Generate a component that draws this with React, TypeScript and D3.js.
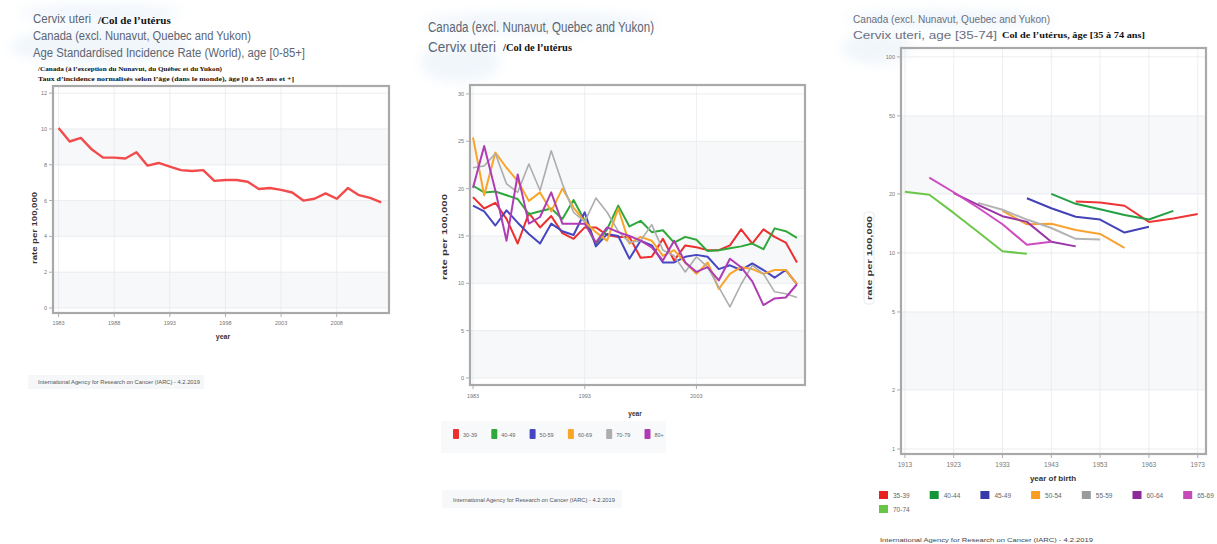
import React from 'react';
import * as d3 from 'd3';

// ---------- DATA ----------
const periodYears = [1983,1984,1985,1986,1987,1988,1989,1990,1991,1992,1993,1994,1995,1996,1997,1998,1999,2000,2001,2002,2003,2004,2005,2006,2007,2008,2009,2010,2011,2012];
const asrAllAges = [10.05,9.3,9.5,8.85,8.4,8.4,8.35,8.7,7.95,8.1,7.9,7.7,7.65,7.7,7.1,7.15,7.15,7.05,6.65,6.7,6.6,6.45,6.0,6.1,6.4,6.1,6.7,6.3,6.15,5.9];
const leftYTicks = [0,2,4,6,8,10,12];
const leftXTicks = [1983,1988,1993,1998,2003,2008];

const ageGroupLabels = ['30-39','40-49','50-59','60-69','70-79','80+'];
const rate30_39 = [19.1,17.9,18.5,16.8,14.2,17.4,15.9,17.1,15.3,14.7,15.9,15.9,15.1,14.9,14.9,12.7,12.8,14.7,12.4,14.0,13.8,13.5,13.5,14.0,15.7,14.2,15.7,14.9,14.3,12.2];
const rate40_49 = [20.3,19.6,19.7,19.3,18.9,17.3,17.6,17.9,16.8,18.8,16.6,14.1,15.7,18.2,16.0,16.6,15.4,15.6,14.3,14.9,14.6,13.4,13.5,13.7,13.9,14.2,13.6,15.8,15.5,14.8];
const rate50_59 = [18.2,17.6,16.1,17.7,16.4,15.2,14.2,16.3,15.5,15.1,17.5,13.9,15.2,15.0,12.6,14.5,14.0,12.2,12.2,12.8,13.0,12.8,11.5,11.9,11.4,12.1,11.4,10.6,11.4,9.9];
const rate60_69 = [25.4,19.3,23.8,22.2,20.8,18.7,19.6,17.6,20.0,18.0,16.5,15.4,14.5,17.9,14.2,14.9,14.5,12.9,13.5,12.2,11.0,12.2,9.4,11.0,11.7,11.5,11.0,11.4,11.4,9.9];
const rate70_79 = [22.2,22.4,23.7,20.5,19.6,22.6,19.8,24.0,20.5,17.5,16.5,19.0,17.5,15.5,14.3,14.5,16.2,13.5,12.9,11.2,12.8,11.7,9.6,7.5,9.9,11.9,11.0,9.1,8.9,8.5];
const rate80p = [20.1,24.5,19.8,14.5,21.5,16.3,17.0,19.6,16.3,16.3,16.3,14.3,15.9,15.4,15.0,14.5,13.8,12.4,14.5,12.2,11.2,11.7,10.3,12.6,11.7,10.2,7.7,8.4,8.5,9.9];
const midColors = ['#ec2f2f','#2fa83a','#4646c0','#f9a52a','#adadad','#b03cb3'];
const midYTicks = [0,5,10,15,20,25,30];
const midXTicks = [1983,1993,2003];

const cohortBirthYears = [1913,1918,1923,1928,1933,1938,1943,1948,1953,1958,1963,1968,1973];
const cohortLabels = ['35-39','40-44','45-49','50-54','55-59','60-64','65-69','70-74'];
const cohort35_39 = [null,null,null,null,null,null,null,18.3,18.1,17.4,14.4,15.0,15.8];
const cohort40_44 = [null,null,null,null,null,null,20.0,17.8,16.7,15.6,14.8,16.4,null];
const cohort45_49 = [null,null,null,null,null,19.0,16.9,15.3,14.8,12.7,13.6,null,null];
const cohort50_54 = [null,null,null,null,16.4,14.0,14.1,13.1,12.5,10.6,null,null,null];
const cohort55_59 = [null,null,null,18.0,16.6,14.8,13.4,11.8,11.7,null,null,null,null];
const cohort60_64 = [null,null,20.2,17.6,15.4,14.4,11.4,10.8,null,null,null,null,null];
const cohort65_69 = [null,24.2,20.4,17.0,14.0,11.0,11.4,null,null,null,null,null,null];
const cohort70_74 = [20.5,19.8,16.0,12.8,10.2,9.9,null,null,null,null,null,null,null];
const rightColors = ['#ee3535','#23a043','#4343b8','#f8a232','#b3b3b3','#9a35a5','#cf4cc0','#6cc749'];
const rightLegendColors = ['#e8201f','#14953a','#3838a8','#fb9d1e','#9a9a9a','#8c2a9c','#c44bb8','#68c646'];
const rightYTicks = [1,2,5,10,20,50,100];
const rightXTicks = [1913,1923,1933,1943,1953,1963,1973];

const HEAD = '#5c6573';
const SANS = "'Liberation Sans', Arial, sans-serif";
const SERIF = "'Liberation Serif', 'Times New Roman', serif";
const sans = { fontFamily: SANS };
const serif = { fontFamily: SERIF };

function Watermark({ x, y, w, h }: any) {
  return <ellipse cx={x + w / 2} cy={y + h / 2} rx={w / 2} ry={h / 2} fill="#dce9f5" opacity={0.4} filter="url(#blurW)" />;
}

function Frame({ x0, x1, y0, y1 }: any) {
  return <rect x={x0} y={y0} width={x1 - x0} height={y1 - y0} fill="none" stroke="#a9a9a9" strokeWidth={2.2} />;
}

const BAND = '#f7f8f9';

export default function App() {
  // ---- left panel scales
  const lx = d3.scaleLinear().domain([1982.5, 2012.7]).range([53, 389]);
  const ly = d3.scaleLinear().domain([-0.28, 12.4]).range([313, 86]);
  const lLine = d3.line<number>().x((_, i) => lx(periodYears[i])).y(d => ly(d));

  // ---- middle panel
  const mx = d3.scaleLinear().domain([1982.73, 2012.72]).range([470, 805]);
  const my = d3.scaleLinear().domain([-0.74, 30.94]).range([385, 85]);
  const mLine = d3.line<number>().x((_, i) => mx(periodYears[i])).y(d => my(d));
  const midSeries = [rate30_39, rate40_49, rate50_59, rate60_69, rate70_79, rate80p];

  // ---- right panel
  const rx = d3.scaleLinear().domain([1912.2, 1974.7]).range([901, 1206]);
  const ry = d3.scaleLog().domain([0.943, 111]).range([454, 48]);
  const rLine = d3.line<number | null>()
    .defined(d => d != null)
    .x((_, i) => rx(cohortBirthYears[i]))
    .y(d => ry(d as number));
  const rightSeries = [cohort35_39, cohort40_44, cohort45_49, cohort50_54, cohort55_59, cohort60_64, cohort65_69, cohort70_74];

  const leftBands = [[0, 2], [4, 6], [8, 10]];
  const midBands = [[0, 5], [10, 15], [20, 25]];
  const rightBands = [[2, 5], [20, 50]];

  return (
    <svg width={1217} height={544} style={{ position: 'absolute', left: 0, top: 0, background: '#fff' }}>
      <defs>
        <filter id="blurW" x="-50%" y="-50%" width="200%" height="200%">
          <feGaussianBlur stdDeviation="6" />
        </filter>
      </defs>
      <rect x={0} y={0} width={1217} height={544} fill="#fff" />

      {/* ================= LEFT PANEL ================= */}
      <Watermark x={10} y={28} w={180} h={36} />
      <Watermark x={20} y={4} w={160} h={18} />
      <text x={33} y={23} style={sans} fontSize={12} fill={HEAD} textLength={58} lengthAdjust="spacingAndGlyphs">Cervix uteri</text>
      <text x={98} y={24} style={serif} fontWeight="bold" fontSize={11} fill="#111">/Col de l’utérus</text>
      <text x={33} y={40} style={sans} fontSize={12} fill={HEAD} textLength={218} lengthAdjust="spacingAndGlyphs">Canada (excl. Nunavut, Quebec and Yukon)</text>
      <text x={33} y={57} style={sans} fontSize={12} fill={HEAD} textLength={272} lengthAdjust="spacingAndGlyphs">Age Standardised Incidence Rate (World), age [0-85+]</text>
      <text x={38} y={71} style={serif} fontWeight="bold" fontSize={6.3} fill="#111" textLength={184} lengthAdjust="spacingAndGlyphs">/Canada (à l’exception du Nunavut, du Québec et du Yukon)</text>
      <text x={38} y={81} style={serif} fontWeight="bold" fontSize={6.3} fill="#111" textLength={256} lengthAdjust="spacingAndGlyphs">Taux d’incidence normalisés selon l’âge (dans le monde), âge [0 à 55 ans et +]</text>

      {leftBands.map(([a, b], i) => (
        <rect key={'lb' + i} x={53} width={336} y={ly(b)} height={ly(a) - ly(b)} fill={BAND} />
      ))}
      {leftYTicks.map(t => (
        <g key={'ly' + t}>
          <line x1={53} x2={389} y1={ly(t)} y2={ly(t)} stroke="#e6e8eb" strokeWidth={0.8} />
          <line x1={49} x2={53} y1={ly(t)} y2={ly(t)} stroke="#999" strokeWidth={0.8} />
          <text x={47} y={ly(t) + 2} textAnchor="end" style={sans} fontSize={5.5} fill="#777">{t}</text>
        </g>
      ))}
      {leftXTicks.map(t => (
        <g key={'lx' + t}>
          <line x1={lx(t)} x2={lx(t)} y1={86} y2={313} stroke="#e8eaec" strokeWidth={0.8} />
          <line x1={lx(t)} x2={lx(t)} y1={313} y2={317} stroke="#999" strokeWidth={0.8} />
          <text x={lx(t)} y={325} textAnchor="middle" style={sans} fontSize={5.5} fill="#777">{t}</text>
        </g>
      ))}
      <Frame x0={53} x1={389} y0={86} y1={313} />
      <path d={lLine(asrAllAges) || ''} fill="none" stroke="#f34b4b" strokeWidth={2.4} strokeLinejoin="round" />
      <text x={223} y={339} textAnchor="middle" style={sans} fontWeight="bold" fontSize={7} fill="#333">year</text>
      <text transform={`translate(37,${228}) rotate(-90)`} textAnchor="middle" style={sans} fontWeight="bold" fontSize={7} fill="#333" textLength={72} lengthAdjust="spacingAndGlyphs">rate per 100,000</text>
      <rect x={28} y={375} width={176} height={14} fill="#f5f7f9" />
      <text x={38} y={384} style={sans} fontSize={5} fill="#555" textLength={162} lengthAdjust="spacingAndGlyphs">International Agency for Research on Cancer (IARC) - 4.2.2019</text>

      {/* ================= MIDDLE PANEL ================= */}
      <Watermark x={420} y={42} w={80} h={40} />
      <Watermark x={422} y={12} w={236} h={22} />
      <text x={428} y={32} style={sans} fontSize={14} fill={HEAD} textLength={226} lengthAdjust="spacingAndGlyphs">Canada (excl. Nunavut, Quebec and Yukon)</text>
      <text x={428} y={52} style={sans} fontSize={14} fill={HEAD} textLength={68} lengthAdjust="spacingAndGlyphs">Cervix uteri</text>
      <text x={503} y={51} style={serif} fontWeight="bold" fontSize={9.5} fill="#111" textLength={69} lengthAdjust="spacingAndGlyphs">/Col de l’utérus</text>

      {midBands.map(([a, b], i) => (
        <rect key={'mb' + i} x={470} width={335} y={my(b)} height={my(a) - my(b)} fill={BAND} />
      ))}
      {midYTicks.map(t => (
        <g key={'my' + t}>
          <line x1={470} x2={805} y1={my(t)} y2={my(t)} stroke="#e6e8eb" strokeWidth={0.8} />
          <line x1={466} x2={470} y1={my(t)} y2={my(t)} stroke="#999" strokeWidth={0.8} />
          <text x={464} y={my(t) + 2} textAnchor="end" style={sans} fontSize={5.5} fill="#777">{t}</text>
        </g>
      ))}
      {midXTicks.map(t => (
        <g key={'mx' + t}>
          <line x1={mx(t)} x2={mx(t)} y1={85} y2={385} stroke="#e8eaec" strokeWidth={0.8} />
          <line x1={mx(t)} x2={mx(t)} y1={385} y2={389} stroke="#999" strokeWidth={0.8} />
          <text x={mx(t)} y={398} textAnchor="middle" style={sans} fontSize={5.5} fill="#777">{t}</text>
        </g>
      ))}
      <Frame x0={470} x1={805} y0={85} y1={385} />
      {midSeries.map((s, i) => (
        <path key={'ms' + i} d={mLine(s) || ''} fill="none" stroke={midColors[i]} strokeWidth={i === 4 ? 1.6 : 2} strokeLinejoin="round" />
      ))}
      <text x={635} y={416} textAnchor="middle" style={sans} fontWeight="bold" fontSize={6.5} fill="#333">year</text>
      <text transform={`translate(447,${237}) rotate(-90)`} textAnchor="middle" style={sans} fontWeight="bold" fontSize={7.5} fill="#333" textLength={86} lengthAdjust="spacingAndGlyphs">rate per 100,000</text>
      <rect x={441} y={421} width={225} height={32} fill="#f7f9fa" />
      {ageGroupLabels.map((lab, i) => (
        <g key={'ml' + i}>
          <rect x={453 + i * 38.3} y={429} width={6} height={10} rx={1} fill={midColors[i]} />
          <text x={463 + i * 38.3} y={437} style={sans} fontSize={5.5} fill="#666">{lab}</text>
        </g>
      ))}
      <rect x={442} y={490} width={180} height={18} fill="#f6f8fa" />
      <text x={453} y={502} style={sans} fontSize={5} fill="#555" textLength={162} lengthAdjust="spacingAndGlyphs">International Agency for Research on Cancer (IARC) - 4.2.2019</text>

      {/* ================= RIGHT PANEL ================= */}
      <Watermark x={842} y={32} w={70} h={32} />
      <Watermark x={845} y={10} w={210} h={18} />
      <text x={853} y={23} style={sans} fontSize={11} fill="#6a7080" textLength={197} lengthAdjust="spacingAndGlyphs">Canada (excl. Nunavut, Quebec and Yukon)</text>
      <text x={853} y={39} style={sans} fontSize={11} fill="#6a7080" textLength={144} lengthAdjust="spacingAndGlyphs">Cervix uteri,  age [35-74]</text>
      <text x={1002} y={38} style={serif} fontWeight="bold" fontSize={8.5} fill="#111" textLength={143} lengthAdjust="spacingAndGlyphs">Col de l’utérus, âge [35 à 74 ans]</text>

      {rightBands.map(([a, b], i) => (
        <rect key={'rb' + i} x={901} width={305} y={ry(b)} height={ry(a) - ry(b)} fill={BAND} />
      ))}
      {rightYTicks.map(t => (
        <g key={'ry' + t}>
          <line x1={901} x2={1206} y1={ry(t)} y2={ry(t)} stroke="#e6e8eb" strokeWidth={0.8} />
          <line x1={897} x2={901} y1={ry(t)} y2={ry(t)} stroke="#999" strokeWidth={0.8} />
          <text x={895} y={ry(t) + 2} textAnchor="end" style={sans} fontSize={5.5} fill="#777">{t}</text>
        </g>
      ))}
      {rightXTicks.map(t => (
        <g key={'rx' + t}>
          <line x1={rx(t)} x2={rx(t)} y1={48} y2={454} stroke="#e8eaec" strokeWidth={0.8} />
          <line x1={rx(t)} x2={rx(t)} y1={454} y2={458} stroke="#999" strokeWidth={0.8} />
          <text x={rx(t)} y={467} textAnchor="middle" style={sans} fontSize={6.5} fill="#777">{t}</text>
        </g>
      ))}
      <Frame x0={901} x1={1206} y0={48} y1={454} />
      {rightSeries.map((s, i) => (
        <path key={'rs' + i} d={rLine(s) || ''} fill="none" stroke={rightColors[i]} strokeWidth={2} strokeLinejoin="round" />
      ))}
      <text x={1053} y={481} textAnchor="middle" style={sans} fontWeight="bold" fontSize={8} fill="#333">year of birth</text>
      <rect x={864} y={212} width={10} height={92} rx={3} fill="#fff" stroke="#e2e4e6" strokeWidth={0.8} />
      <text transform={`translate(871.5,${258}) rotate(-90)`} textAnchor="middle" style={sans} fontWeight="bold" fontSize={7} fill="#333" textLength={84} lengthAdjust="spacingAndGlyphs">rate per 100,000</text>
      {cohortLabels.map((lab, i) => {
        const row = i < 7 ? 0 : 1;
        const col = i < 7 ? i : 0;
        const x = 879 + col * 50.7;
        const y = 491 + row * 14;
        return (
          <g key={'rl' + i}>
            <rect x={x} y={y} width={9} height={8} fill={rightLegendColors[i]} />
            <text x={x + 14} y={y + 7} style={sans} fontSize={6.5} fill="#666">{lab}</text>
          </g>
        );
      })}
      <text x={880} y={542} style={sans} fontSize={6} fill="#444" textLength={213} lengthAdjust="spacingAndGlyphs">International Agency for Research on Cancer (IARC) - 4.2.2019</text>
    </svg>
  );
}
